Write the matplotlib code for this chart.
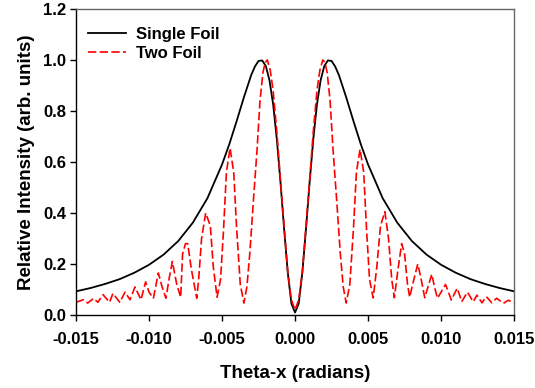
import matplotlib.pyplot as plt

plt.rcParams["font.family"] = ["Liberation Sans", "DejaVu Sans"]
plt.rcParams["font.weight"] = "bold"

# single foil angular distribution
single_x = [-0.015, -0.014, -0.013, -0.012, -0.011, -0.010, -0.009, -0.008,
            -0.007, -0.006, -0.005, -0.0045, -0.004, -0.0035, -0.003, -0.00275,
            -0.0025, -0.00225, -0.002, -0.00175, -0.0015, -0.00125, -0.001,
            -0.00075, -0.0005, -0.00025, 0.0,
            0.00025, 0.0005, 0.00075, 0.001, 0.00125, 0.0015, 0.00175, 0.002,
            0.00225, 0.0025, 0.00275, 0.003, 0.0035, 0.004, 0.0045, 0.005,
            0.006, 0.007, 0.008, 0.009, 0.010, 0.011, 0.012, 0.013, 0.014, 0.015]
single_y = [0.093, 0.106, 0.122, 0.141, 0.166, 0.197, 0.237, 0.290,
            0.362, 0.458, 0.590, 0.670, 0.760, 0.854, 0.941, 0.974,
            0.996, 0.998, 0.976, 0.920, 0.826, 0.690, 0.522,
            0.338, 0.167, 0.045, 0.010,
            0.045, 0.167, 0.338, 0.522, 0.690, 0.826, 0.920, 0.976,
            0.998, 0.996, 0.974, 0.941, 0.854, 0.760, 0.670, 0.590,
            0.458, 0.362, 0.290, 0.237, 0.197, 0.166, 0.141, 0.122, 0.106, 0.093]

# two foil interference pattern
two_x = [-0.0150, -0.0145, -0.0142, -0.0138, -0.0135, -0.01315, -0.0127, -0.01247,
         -0.0120, -0.01164, -0.0113, -0.01096, -0.01055, -0.01023, -0.0100, -0.0097,
         -0.00955, -0.00936, -0.0091, -0.00884, -0.0086, -0.0084, -0.0081, -0.00783,
         -0.0077, -0.0075, -0.00735, -0.0071, -0.00673, -0.0066, -0.0064, -0.00612,
         -0.0058, -0.0056, -0.00534, -0.0051, -0.0049, -0.0047, -0.00445, -0.0042,
         -0.0040, -0.00375, -0.0035, -0.0033, -0.0031, -0.00285, -0.0026, -0.0024,
         -0.0022, -0.00205, -0.0019, -0.0017, -0.0015, -0.00125, -0.0010, -0.00075,
         -0.0005, -0.00025, 0.0,
         0.00025, 0.0005, 0.00075, 0.0010, 0.00125, 0.0015, 0.0017, 0.0019,
         0.00205, 0.0022, 0.0024, 0.0026, 0.00285, 0.0031, 0.0033, 0.0035,
         0.00375, 0.0040, 0.0042, 0.00445, 0.0047, 0.0049, 0.0051, 0.00535,
         0.0056, 0.00585, 0.00615, 0.0064, 0.00662, 0.0068, 0.00705, 0.0073,
         0.0075, 0.0077, 0.00785, 0.00805, 0.0084, 0.0086, 0.00888, 0.0091,
         0.00936, 0.00955, 0.00975, 0.0100, 0.0103, 0.0105, 0.0107, 0.0111,
         0.01142, 0.0118, 0.0122, 0.01245, 0.0128, 0.0131, 0.01347, 0.0138,
         0.01427, 0.0146, 0.0150]
two_y = [0.050, 0.060, 0.047, 0.065, 0.050, 0.080, 0.050, 0.085,
         0.050, 0.090, 0.060, 0.110, 0.060, 0.130, 0.090, 0.066,
         0.110, 0.165, 0.110, 0.066, 0.150, 0.210, 0.120, 0.070,
         0.240, 0.280, 0.280, 0.180, 0.066, 0.140, 0.300, 0.400,
         0.350, 0.190, 0.070, 0.140, 0.330, 0.560, 0.655, 0.560,
         0.340, 0.120, 0.047, 0.110, 0.240, 0.450, 0.650, 0.840,
         0.950, 0.990, 1.000, 0.960, 0.880, 0.720, 0.530, 0.350,
         0.170, 0.060, 0.020,
         0.060, 0.170, 0.350, 0.530, 0.720, 0.880, 0.960, 1.000,
         0.990, 0.950, 0.840, 0.650, 0.450, 0.240, 0.110, 0.047,
         0.120, 0.340, 0.560, 0.650, 0.560, 0.330, 0.140, 0.067,
         0.190, 0.350, 0.405, 0.300, 0.140, 0.068, 0.180, 0.280,
         0.240, 0.120, 0.070, 0.120, 0.200, 0.150, 0.068, 0.110,
         0.160, 0.110, 0.066, 0.090, 0.120, 0.090, 0.059, 0.105,
         0.053, 0.090, 0.052, 0.078, 0.048, 0.072, 0.048, 0.066,
         0.046, 0.058, 0.048]

x_ticks = [-0.015, -0.010, -0.005, 0.000, 0.005, 0.010, 0.015]
y_ticks = [0.0, 0.2, 0.4, 0.6, 0.8, 1.0, 1.2]

fig = plt.figure(figsize=(5.35, 3.88), dpi=100)
ax = fig.add_axes([0.142, 0.188, 0.819, 0.789])

ax.plot(single_x, single_y, color="black", lw=1.3, label="Single Foil")
ax.plot(two_x, two_y, color="red", lw=1.2, dashes=(5, 2), label="Two Foil")

ax.set_xlim(-0.015, 0.015)
ax.set_ylim(0.0, 1.2)
ax.set_xticks(x_ticks)
ax.set_xticklabels([f"{t:.3f}" for t in x_ticks])
ax.set_yticks(y_ticks)
ax.set_yticklabels([f"{t:.1f}" for t in y_ticks])
ax.tick_params(direction="out", length=4, width=1, labelsize=12, color="black")
ax.tick_params(axis="x", pad=8)
ax.tick_params(axis="y", pad=3)

for side in ["left", "bottom"]:
    ax.spines[side].set_color("black")
    ax.spines[side].set_linewidth(1)
for side in ["top", "right"]:
    ax.spines[side].set_color("#666666")
    ax.spines[side].set_linewidth(1)

ax.set_xlabel("Theta-x (radians)", fontsize=13.5, fontweight="bold", labelpad=13)
ax.set_ylabel("Relative Intensity (arb. units)", fontsize=13.5, fontweight="bold", labelpad=6)

leg = ax.legend(loc="upper left", frameon=False, prop={"size": 12, "weight": "bold"},
                handlelength=2.3, handletextpad=0.6, borderaxespad=0.3,
                labelspacing=0.25, bbox_to_anchor=(0.0, 0.98))

fig.savefig("out.png", dpi=100)
